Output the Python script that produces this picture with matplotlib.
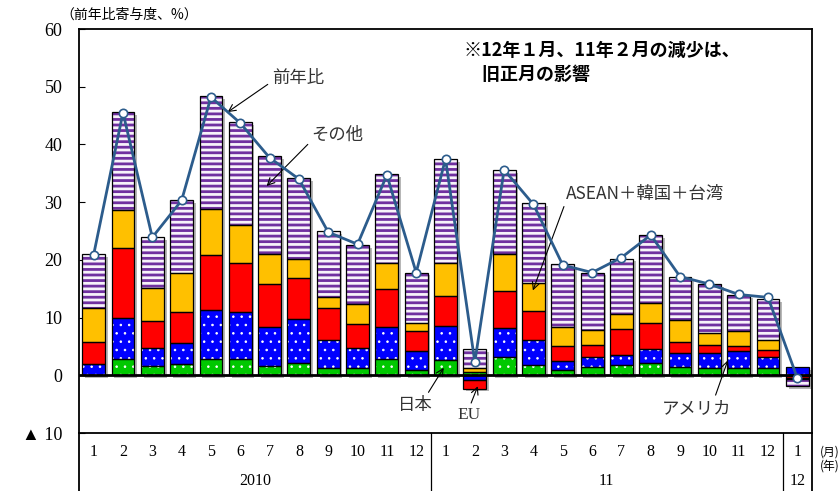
import matplotlib.pyplot as plt
import matplotlib.patheffects as pe
import matplotlib.transforms as mtransforms
import numpy as np

plt.rcParams['font.family'] = ['Noto Sans CJK JP', 'DejaVu Sans']
plt.rcParams['hatch.linewidth'] = 1.0
serif = ['Liberation Serif', 'DejaVu Sans']

# data (contribution to y/y growth, %)
months = ['1', '2', '3', '4', '5', '6', '7', '8', '9', '10', '11', '12',
          '1', '2', '3', '4', '5', '6', '7', '8', '9', '10', '11', '12', '1']
years = ['2010', '11', '12']
year_of_bar = [0] * 12 + [1] * 12 + [2]

japan = [0.1, 2.9, 1.6, 2.0, 2.8, 2.8, 1.6, 2.2, 1.2, 1.3, 2.8, 1.0,
         2.6, 0.5, 3.2, 1.7, 1.0, 1.4, 1.7, 2.1, 1.5, 1.3, 1.3, 1.2, -0.1]
usa = [1.8, 7.1, 3.2, 3.6, 8.5, 8.2, 6.8, 7.6, 5.0, 3.5, 5.6, 3.2,
       5.9, -0.8, 5.0, 4.5, 1.4, 1.8, 1.9, 2.5, 2.3, 2.6, 2.9, 2.0, 1.4]
eu = [3.9, 12.0, 4.6, 5.4, 9.5, 8.5, 7.4, 7.1, 5.4, 4.0, 6.5, 3.4,
      5.3, -1.5, 6.4, 5.0, 2.6, 2.1, 4.4, 4.4, 2.0, 1.4, 0.9, 1.1, -0.4]
asean = [5.8, 6.6, 5.8, 6.8, 8.0, 6.5, 5.3, 3.2, 2.0, 3.6, 4.5, 1.4,
         5.6, 0.8, 6.4, 4.8, 3.4, 2.6, 2.7, 3.6, 3.8, 2.1, 2.5, 1.9, -0.2]
other = [9.4, 17.0, 8.8, 12.6, 19.6, 17.8, 16.9, 14.0, 11.4, 10.2, 15.4, 8.8,
         18.0, 3.3, 14.5, 13.8, 10.8, 9.9, 9.5, 11.7, 7.4, 8.4, 6.3, 7.0, -1.2]
yoy = [20.9, 45.5, 23.9, 30.3, 48.2, 43.7, 37.7, 34.0, 24.8, 22.7, 34.7, 17.8,
       37.5, 2.3, 35.6, 29.6, 19.1, 17.8, 20.4, 24.3, 17.1, 15.8, 14.0, 13.5, -0.5]

yticks = [-10, 0, 10, 20, 30, 40, 50, 60]
ytick_labels = ['▲ 10', '0', '10', '20', '30', '40', '50', '60']

fig = plt.figure(figsize=(8.39, 4.91), dpi=100)
ax = fig.add_axes([79 / 839, 58 / 491, 733 / 839, 404 / 491])

x = np.arange(len(months))
w = 0.78
n = len(months)

layers = [(japan, '#00C800', '..', 'white'),
          (usa, '#0000FF', '..', 'white'),
          (eu, '#FF0000', None, '#FF0000'),
          (asean, '#FFC000', None, '#FFC000'),
          (other, '#F7F2FA', '---', '#7030A0')]

pos_base = np.zeros(n)
neg_base = np.zeros(n)
for vals, color, hatch, hcolor in layers:
    v = np.array(vals)
    base = np.where(v >= 0, pos_base, neg_base)
    hatch_lw = 2.0 if hatch == '---' else 0.6
    plt.rcParams['hatch.linewidth'] = hatch_lw
    bars = ax.bar(x, v, w, bottom=base, color=color, hatch=hatch,
                  edgecolor=hcolor, linewidth=0, zorder=2)
    for b in bars:
        if hasattr(b, 'set_hatch_linewidth'):
            b.set_hatch_linewidth(hatch_lw)
    ax.bar(x, v, w, bottom=base, fill=False, edgecolor='black',
           linewidth=0.9, zorder=3)
    pos_base += np.where(v >= 0, v, 0)
    neg_base += np.where(v < 0, v, 0)

# shadow behind the stacks
ax.bar(x, pos_base - neg_base, w, bottom=neg_base, color='none', zorder=1,
       path_effects=[pe.SimplePatchShadow(offset=(2, -2), shadow_rgbFace='#888888', alpha=0.6)])

ax.axhline(0, color='black', lw=2, zorder=4)
ax.plot(x, yoy, color='#2C5C8C', lw=2, marker='o', mfc='white', mec='#2C5C8C',
        ms=6, mew=1.2, zorder=5)

ax.set_xlim(-0.5, n - 0.5)
ax.set_ylim(-10, 60)
ax.set_yticks(yticks)
ax.set_yticklabels(ytick_labels)
for lbl in ax.get_yticklabels():
    lbl.set_fontfamily(serif)
    lbl.set_fontsize(13)
ax.tick_params(axis='y', direction='in', length=4, pad=12)
ax.set_xticks([])
for s in ax.spines.values():
    s.set_linewidth(1.3)

# month / year table below the axes
tr = mtransforms.blended_transform_factory(ax.transData, ax.transAxes)
ybot = -58 / 404
for xi, m in zip(x, months):
    ax.text(xi, -0.047, m, transform=tr, ha='center', va='center',
            fontsize=11.5, family=serif)
yb = np.array(year_of_bar)
for k, yl in enumerate(years):
    ax.text(x[yb == k].mean(), -0.118, yl, transform=tr, ha='center', va='center',
            fontsize=11.5, family=serif)
    if k > 0:
        xs = x[yb == k].min() - 0.5
        ax.plot([xs, xs], [0, ybot], transform=tr, color='black', lw=0.9, clip_on=False)
for xa in (0, 1):
    ax.plot([xa, xa], [0, ybot], transform=ax.transAxes, color='black', lw=1.3, clip_on=False)
fig.text(820 / 839, 1 - 452 / 491, '(月)', fontsize=8.5, va='center', ha='left')
fig.text(820 / 839, 1 - 466 / 491, '(年)', fontsize=8.5, va='center', ha='left')

fig.text(60 / 839, 1 - 15 / 491, '（前年比寄与度、%）', fontsize=10, va='center', ha='left')

ax.text(0.525, 0.97, '※12年１月、11年２月の減少は、\n　旧正月の影響', transform=ax.transAxes,
        ha='left', va='top', fontsize=13, fontweight='bold', linespacing=1.35)

arrow = dict(arrowstyle='->', color='black', lw=0.8, shrinkA=1, shrinkB=0)
lab = dict(fontsize=12.5, color='#333333', ha='center', va='center')
ax.annotate('前年比', xy=(4.57, 45.6), xytext=(6.96, 51.5),
            arrowprops=dict(arrow, relpos=(0, 0.3)), **lab)
ax.annotate('その他', xy=(5.9, 32.8), xytext=(8.32, 41.6),
            arrowprops=dict(arrow, relpos=(0, 0.2)), **lab)
ax.annotate('ASEAN＋韓国＋台湾', xy=(14.98, 14.7), xytext=(18.79, 31.5),
            arrowprops=dict(arrow, relpos=(0, 0)), **lab)
ax.annotate('日本', xy=(11.94, 1.3), xytext=(10.98, -5.2),
            arrowprops=dict(arrow, relpos=(0.8, 1)), **lab)
ax.annotate('EU', xy=(13.1, -1.9), xytext=(12.82, -6.9),
            arrowprops=dict(arrow, relpos=(0.5, 1)), **dict(lab, family=serif))
ax.annotate('アメリカ', xy=(21.63, 2.6), xytext=(20.57, -5.7),
            arrowprops=dict(arrow, relpos=(0.75, 1)), **lab)

fig.savefig('out.png', dpi=100)
